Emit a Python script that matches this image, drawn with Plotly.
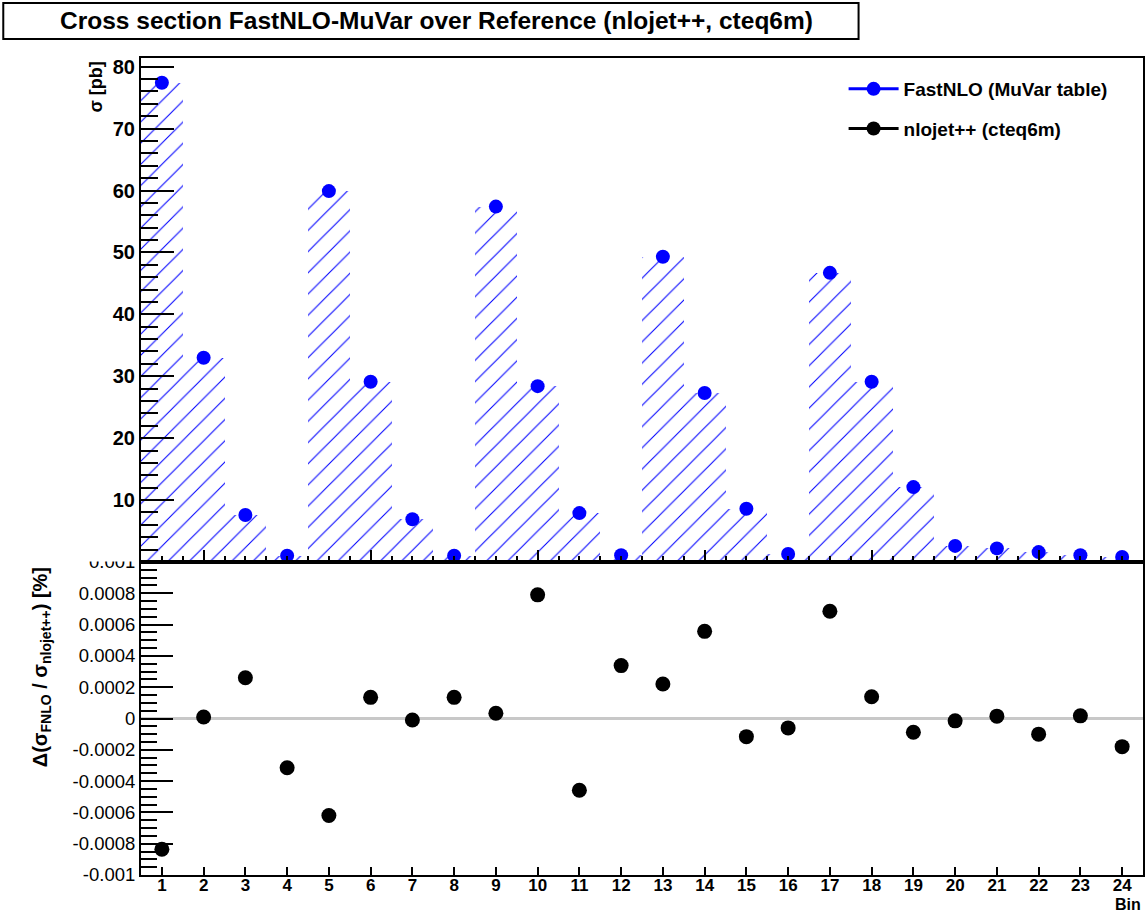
import plotly.graph_objects as go

# Bin numbers and cross sections
bins = list(range(1, 25))
sigma_fastnlo = [77.4, 33.0, 7.6, 1.0, 59.9, 29.1, 6.9, 1.0,
                 57.4, 28.4, 7.9, 1.1, 49.3, 27.3, 8.6, 1.3,
                 46.7, 29.1, 12.1, 2.6, 2.2, 1.6, 1.1, 0.8]
# Relative difference FastNLO / nlojet++ in percent
ratio_diff = [-0.000835, 0.00001, 0.00026, -0.000315, -0.00062, 0.000135, -0.00001, 0.000135,
              0.000034, 0.00079, -0.000458, 0.000338, 0.00022, 0.000557, -0.000116, -0.00006,
              0.000685, 0.000139, -0.000088, -0.000015, 0.000015, -0.0001, 0.000017, -0.00018]

top_ticks = [10, 20, 30, 40, 50, 60, 70, 80]
ratio_ticks = [-0.001, -0.0008, -0.0006, -0.0004, -0.0002, 0, 0.0002, 0.0004, 0.0006, 0.0008, 0.001]
ratio_labels = ["-0.001", "-0.0008", "-0.0006", "-0.0004", "-0.0002", "0",
                "0.0002", "0.0004", "0.0006", "0.0008", "0.001"]

W, H = 1146, 914
L, R, T, B = 141, 1, 58, 39
PW, PH = W - L - R, H - T - B


def px(x):
    return (x - L) / PW


def py(y):
    return 1 - (y - T) / PH


split = py(562)
BLUE = "#0000ff"
FONT = "Liberation Sans, Arial, sans-serif"

fig = go.Figure()

# Hatched histogram of the FastNLO cross section
fig.add_trace(go.Bar(
    x=bins, y=sigma_fastnlo, width=1.0, xaxis="x", yaxis="y",
    marker=dict(color="white", line=dict(width=0),
                pattern=dict(shape="/", fgcolor=BLUE, bgcolor="white", fgopacity=1,
                             fillmode="replace", size=15, solidity=0.07)),
    showlegend=False, hoverinfo="skip",
))
fig.add_trace(go.Scatter(
    x=bins, y=sigma_fastnlo, mode="markers", xaxis="x", yaxis="y",
    marker=dict(color=BLUE, size=14), showlegend=False,
))
# Ratio panel
fig.add_trace(go.Scatter(
    x=bins, y=ratio_diff, mode="markers", xaxis="x2", yaxis="y2",
    marker=dict(color="black", size=15), showlegend=False,
))

# Legend entries
fig.add_trace(go.Scatter(
    x=[None], y=[None], mode="lines+markers", name="FastNLO (MuVar table)",
    line=dict(color=BLUE, width=3), marker=dict(color=BLUE, size=14),
    legendgroup="a", xaxis="x", yaxis="y",
))
fig.add_trace(go.Scatter(
    x=[None], y=[None], mode="lines+markers", name="nlojet++ (cteq6m)",
    line=dict(color="black", width=3), marker=dict(color="black", size=14),
    legendgroup="b", xaxis="x", yaxis="y",
))

axis_common = dict(showline=True, linecolor="black", linewidth=2, mirror=True,
                   showgrid=False, ticks="inside", tickcolor="black", tickwidth=2)

fig.update_layout(
    width=W, height=H,
    margin=dict(l=L, r=R, t=T, b=B),
    paper_bgcolor="white", plot_bgcolor="white",
    font=dict(family=FONT, color="black"),
    bargap=0,
    xaxis=dict(domain=[0, 1], anchor="y", range=[0.5, 24.5], showticklabels=False,
               tick0=2, dtick=4, ticklen=12,
               minor=dict(dtick=0.5, tick0=0.5, ticklen=6, ticks="inside",
                          tickcolor="black", tickwidth=2),
               zeroline=False, **axis_common),
    yaxis=dict(domain=[split, 1], anchor="x", range=[0, 81.4],
               tickvals=top_ticks, ticktext=[str(v) for v in top_ticks], ticklen=33,
               tickfont=dict(size=20, weight="bold"),
               minor=dict(dtick=2, ticklen=17, ticks="inside", tickcolor="black", tickwidth=2),
               zeroline=False, **axis_common),
    xaxis2=dict(domain=[0, 1], anchor="y2", range=[0.5, 24.5],
                tickvals=bins, ticktext=[str(b) for b in bins], ticklen=8,
                tickfont=dict(size=17, weight="bold"), ticklabelstandoff=-6,
                zeroline=False, **axis_common),
    yaxis2=dict(domain=[0, split], anchor="x2", range=[-0.001, 0.001],
                tickvals=ratio_ticks, ticktext=ratio_labels, ticklen=32,
                tickfont=dict(size=18.5),
                minor=dict(dtick=0.00005, ticklen=16, ticks="inside", tickcolor="black", tickwidth=2),
                zeroline=True, zerolinecolor="#c8c8c8", zerolinewidth=3,
                **axis_common),
    legend=dict(x=px(845), y=py(70), xanchor="left", yanchor="top",
                bgcolor="rgba(0,0,0,0)", borderwidth=0, itemwidth=50,
                font=dict(size=19, weight="bold"),
                traceorder="grouped", tracegroupgap=12),
    showlegend=True,
)

# Title box
fig.add_shape(type="rect", xref="paper", yref="paper",
              x0=px(3), x1=px(860), y0=py(39), y1=py(3),
              line=dict(color="black", width=2), fillcolor="white", layer="above")
fig.add_annotation(text="Cross section FastNLO-MuVar over Reference (nlojet++, cteq6m)",
                   xref="paper", yref="paper", x=px(437), y=py(21),
                   xanchor="center", yanchor="middle", showarrow=False,
                   font=dict(size=24.5, weight="bold"))

# Upper pad overlaps the top half of the 0.001 label of the ratio pad
fig.add_shape(type="rect", xref="paper", yref="paper",
              x0=px(50), x1=px(139), y0=py(561.5), y1=py(540),
              line=dict(width=0), fillcolor="white", layer="above")

# Axis titles
fig.add_annotation(text="<b>σ [pb]</b>", xref="paper", yref="paper",
                   x=px(95), y=py(60), xanchor="center", yanchor="top",
                   textangle=-90, showarrow=False, font=dict(size=18))
fig.add_annotation(text="<b>Δ(σ<sub>FNLO</sub> / σ<sub>nlojet++</sub>) [%]</b>",
                   xref="paper", yref="paper",
                   x=px(41), y=py(565), xanchor="center", yanchor="top",
                   textangle=-90, showarrow=False, font=dict(size=20))
fig.add_annotation(text="<b>Bin</b>", xref="paper", yref="paper",
                   x=px(1145), y=py(915), xanchor="right", yanchor="bottom",
                   showarrow=False, font=dict(size=16))

fig.write_html("out.html")
